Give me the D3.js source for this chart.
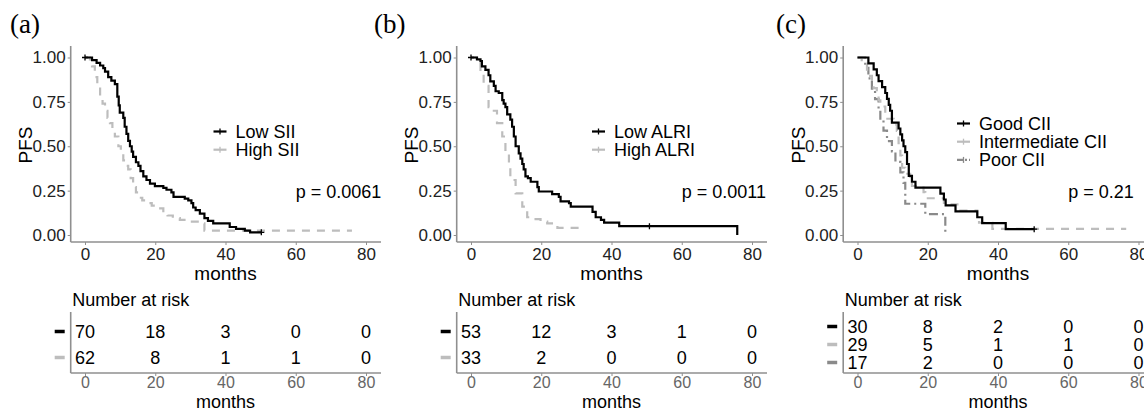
<!DOCTYPE html>
<html>
<head>
<meta charset="utf-8">
<script src="https://cdn.jsdelivr.net/npm/d3@7"></script>
<style>
  body { margin: 0; background: #fff; }
  text { font-family: "Liberation Sans", Arial, sans-serif; }
</style>
</head>
<body>
<svg id="chart" width="1144" height="410"></svg>
<script>
// tick labels
var monthTicks = [0, 20, 40, 60, 80];
var survTicks = [0, 0.25, 0.5, 0.75, 1];

// (a) SII  -- [months, survival]
var lowSII = [[0,1],[2,0.985],[3.3,0.97],[4.3,0.955],[5.2,0.94],[5.7,0.92],[6.6,0.89],[7.5,0.87],[8.5,0.85],
  [9.2,0.78],[9.6,0.73],[9.9,0.69],[10.9,0.66],[11.3,0.61],[11.8,0.57],[12.3,0.53],[12.8,0.5],[13.3,0.47],
  [13.7,0.44],[14.5,0.41],[15.2,0.39],[15.8,0.36],[16.6,0.33],[17.5,0.31],[18.5,0.29],[19.9,0.275],
  [22.3,0.265],[23.2,0.255],[24.6,0.24],[25.2,0.215],[28.4,0.205],[29.4,0.195],[30.3,0.18],[30.8,0.155],
  [31.5,0.14],[32.7,0.12],[34,0.095],[35,0.08],[36.5,0.065],[41.2,0.045],[43,0.035],[45.5,0.025],
  [47,0.015],[50.2,0.015]];
var highSII = [[0,1],[1.4,0.97],[2,0.95],[2.8,0.89],[3.5,0.84],[4.3,0.78],[5,0.74],[5.7,0.7],[6.4,0.66],
  [7.1,0.63],[7.8,0.59],[8.5,0.555],[9.5,0.5],[10.2,0.46],[10.9,0.42],[11.6,0.39],[12.3,0.37],[13,0.32],
  [13.7,0.27],[14.5,0.24],[15.2,0.21],[16.3,0.195],[17.5,0.18],[19,0.165],[20.4,0.15],[22.3,0.12],
  [23.5,0.11],[25,0.095],[27,0.085],[28.9,0.075],[32.7,0.065],[34,0.025],[76,0.025]];
var censorSII = [[[0,1],[50.2,0.015]], []];
var namesSII = ["Low SII", "High SII"];
var riskSII = [[70, 18, 3, 0, 0], [62, 8, 1, 1, 0]];

// (b) ALRI
var lowALRI = [[0,1],[1.7,0.99],[2.7,0.98],[3.1,0.95],[4.1,0.93],[5,0.9],[5.5,0.865],[6.5,0.84],[7,0.81],
  [7.9,0.8],[8.9,0.76],[9.3,0.74],[9.8,0.72],[10.3,0.68],[11.2,0.65],[11.7,0.61],[12.2,0.555],[12.7,0.5],
  [13.6,0.46],[14.1,0.43],[14.6,0.4],[15,0.37],[15.5,0.33],[16.2,0.32],[17,0.3],[18.9,0.27],[19.3,0.245],
  [23.1,0.23],[25,0.215],[25.5,0.19],[27.9,0.18],[28.4,0.16],[34.6,0.13],[35.5,0.1],[37,0.085],
  [37.9,0.07],[42.2,0.05],[75.8,0]];
var highALRI = [[0,1],[1.7,0.985],[2.7,0.93],[3.6,0.84],[5,0.72],[6.5,0.7],[7.4,0.63],[8.9,0.555],
  [9.8,0.46],[10.8,0.385],[11.2,0.31],[12.7,0.235],[14.6,0.16],[16,0.1],[17.9,0.09],[19.8,0.075],
  [21.7,0.065],[24.6,0.04],[30.8,0.04]];
var censorALRI = [[[0,1],[50.8,0.05]], []];
var namesALRI = ["Low ALRI", "High ALRI"];
var riskALRI = [[53, 12, 3, 1, 0], [33, 2, 0, 0, 0]];

// (c) CII
var goodCII = [[0,1],[3.1,0.967],[4.6,0.933],[5.5,0.9],[6,0.867],[7,0.833],[7.9,0.8],[8.4,0.767],
  [8.9,0.733],[9.3,0.7],[9.8,0.633],[11.7,0.6],[12.2,0.567],[12.7,0.533],[13.1,0.5],[13.6,0.467],
  [14.1,0.4],[14.6,0.333],[15.5,0.3],[16.5,0.267],[23.6,0.233],[24.6,0.2],[25.1,0.167],[27.9,0.133],
  [34.1,0.1],[35.5,0.067],[42.2,0.033],[50.3,0.033]];
var interCII = [[0,1],[1.2,0.966],[2.7,0.931],[3.6,0.897],[4.1,0.862],[4.6,0.828],[5.5,0.793],[6,0.759],
  [6.5,0.724],[7.9,0.655],[10.3,0.621],[11.2,0.586],[11.7,0.517],[12.2,0.448],[12.7,0.379],[13.6,0.345],
  [15,0.31],[15.5,0.276],[18.8,0.241],[19.3,0.207],[24.6,0.172],[29.3,0.138],[34.1,0.103],[34.6,0.069],
  [38.4,0.034],[76.5,0.034]];
var poorCII = [[0,1],[2.2,0.941],[3.1,0.882],[4.1,0.824],[5,0.765],[6,0.706],[6.5,0.647],[7.4,0.588],
  [8.4,0.529],[9.8,0.471],[10.8,0.412],[12.2,0.353],[13.1,0.294],[13.6,0.176],[19.3,0.118],[25,0]];
var censorCII = [[[50.3,0.033]], [], []];
var namesCII = ["Good CII", "Intermediate CII", "Poor CII"];
var riskCII = [[30, 8, 2, 0, 0], [29, 5, 1, 1, 0], [17, 2, 0, 0, 0]];

var pValues = ["p = 0.0061", "p = 0.0011", "p = 0.21"];
var panelLabels = ["(a)", "(b)", "(c)"];

// line styles per group position
var styles = [
  {color: "#000000", dash: null},
  {color: "#bdbdbd", dash: "8,7"},
  {color: "#8a8a8a", dash: "9,4,2,4"}
];

var panels = [
  {x0: 85, labelX: 10, legendX: 213.5, legendTop: 131.5,
   series: [lowSII, highSII], censor: censorSII, names: namesSII, risk: riskSII},
  {x0: 471, labelX: 374, legendX: 592, legendTop: 131.5,
   series: [lowALRI, highALRI], censor: censorALRI, names: namesALRI, risk: riskALRI},
  {x0: 857.5, labelX: 776, legendX: 957, legendTop: 123.5,
   series: [goodCII, interCII, poorCII], censor: censorCII, names: namesCII, risk: riskCII}
];

var svg = d3.select("#chart");
var axisColor = "#8f8f8f";

panels.forEach(function(p, i) {
  var x = d3.scaleLinear().domain([0, 80]).range([p.x0, p.x0 + 281]);
  var y = d3.scaleLinear().domain([0, 1]).range([235, 57.5]);
  var left = p.x0 - 14.3, right = p.x0 + 296;
  var g = svg.append("g");

  g.append("text").attr("x", p.labelX).attr("y", 33)
    .style("font-family", "'Liberation Serif', 'Times New Roman', serif")
    .style("font-size", "27px").text(panelLabels[i]);

  // axes of the curve plot
  var xAxis = g.append("g").attr("transform", "translate(0,242)")
    .call(d3.axisBottom(x).tickValues(monthTicks).tickSize(3).tickPadding(3));
  var yAxis = g.append("g").attr("transform", "translate(" + left + ",0)")
    .call(d3.axisLeft(y).tickValues(survTicks).tickSize(3).tickPadding(2).tickFormat(d3.format(".2f")));
  [xAxis, yAxis].forEach(function(a) {
    a.select(".domain").remove();
    a.selectAll("line").attr("stroke", axisColor);
    a.selectAll("text").style("font-size", "17px").attr("fill", "#222");
  });
  g.append("line").attr("x1", left).attr("x2", right).attr("y1", 242).attr("y2", 242)
    .attr("stroke", axisColor).attr("stroke-width", 1.6);
  g.append("line").attr("x1", left).attr("x2", left).attr("y1", 242).attr("y2", 46)
    .attr("stroke", axisColor).attr("stroke-width", 1.6);

  g.append("text").attr("transform", "translate(" + (left - 45) + ",145) rotate(-90)")
    .attr("text-anchor", "middle").attr("dominant-baseline", "central")
    .style("font-size", "19px").text("PFS");
  g.append("text").attr("x", x(40)).attr("y", 273.5).attr("text-anchor", "middle")
    .attr("dominant-baseline", "central").style("font-size", "19px").text("months");

  // curves, first group on top
  var line = d3.line().x(function(d) { return x(d[0]); }).y(function(d) { return y(d[1]); })
    .curve(d3.curveStepAfter);
  for (var k = p.series.length - 1; k >= 0; k--) {
    var st = styles[k];
    g.append("path").datum(p.series[k]).attr("d", line)
      .attr("fill", "none").attr("stroke", st.color).attr("stroke-width", 2.2)
      .attr("stroke-dasharray", st.dash);
    p.censor[k].forEach(function(c) {
      g.append("path").attr("d", "M" + (x(c[0]) - 3) + "," + y(c[1]) + "h6M" + x(c[0]) + "," + (y(c[1]) - 3) + "v6")
        .attr("stroke", st.color).attr("stroke-width", 1.3);
    });
  }

  // legend
  p.names.forEach(function(n, k) {
    var st = styles[k];
    var ly = p.legendTop + k * 18.2;
    var lx = p.legendX;
    g.append("line").attr("x1", lx).attr("x2", lx + 13).attr("y1", ly).attr("y2", ly)
      .attr("stroke", st.color).attr("stroke-width", 2.2)
      .attr("stroke-dasharray", k === 2 ? "6,2,2,2" : null);
    g.append("line").attr("x1", lx + 6.5).attr("x2", lx + 6.5).attr("y1", ly - 3).attr("y2", ly + 3)
      .attr("stroke", st.color).attr("stroke-width", 1.3);
    g.append("text").attr("x", lx + 22).attr("y", ly).attr("dominant-baseline", "central")
      .style("font-size", "18px").text(n);
  });

  g.append("text").attr("x", x(60)).attr("y", 191.5).attr("dominant-baseline", "central")
    .style("font-size", "18px").text(pValues[i]);

  // number at risk table
  var nRows = p.risk.length;
  var rowY = nRows === 2 ? [331.5, 357.5] : [326.5, 344.5, 362.5];
  g.append("text").attr("x", left + 1.5).attr("y", 305.5).style("font-size", "18px").text("Number at risk");
  g.append("line").attr("x1", left).attr("x2", right).attr("y1", 373).attr("y2", 373)
    .attr("stroke", axisColor).attr("stroke-width", 1.6);
  g.append("line").attr("x1", left).attr("x2", left).attr("y1", 373).attr("y2", 312)
    .attr("stroke", axisColor).attr("stroke-width", 1.6);
  var tAxis = g.append("g").attr("transform", "translate(0,373)")
    .call(d3.axisBottom(x).tickValues(monthTicks).tickSize(3).tickPadding(1));
  tAxis.select(".domain").remove();
  tAxis.selectAll("line").attr("stroke", axisColor);
  tAxis.selectAll("text").style("font-size", "16px").attr("fill", "#666");
  g.append("text").attr("x", x(40)).attr("y", 402).attr("text-anchor", "middle")
    .attr("dominant-baseline", "central").style("font-size", "18px").text("months");

  p.risk.forEach(function(row, k) {
    g.append("line").attr("x1", left - 16).attr("x2", left - 6).attr("y1", rowY[k]).attr("y2", rowY[k])
      .attr("stroke", styles[k].color).attr("stroke-width", 3.5);
    g.selectAll(null).data(row).enter().append("text")
      .attr("x", function(d, j) { return x(monthTicks[j]); })
      .attr("y", rowY[k]).attr("text-anchor", "middle").attr("dominant-baseline", "central")
      .style("font-size", "18px").text(function(d) { return d; });
  });
});
</script>
</body>
</html>
